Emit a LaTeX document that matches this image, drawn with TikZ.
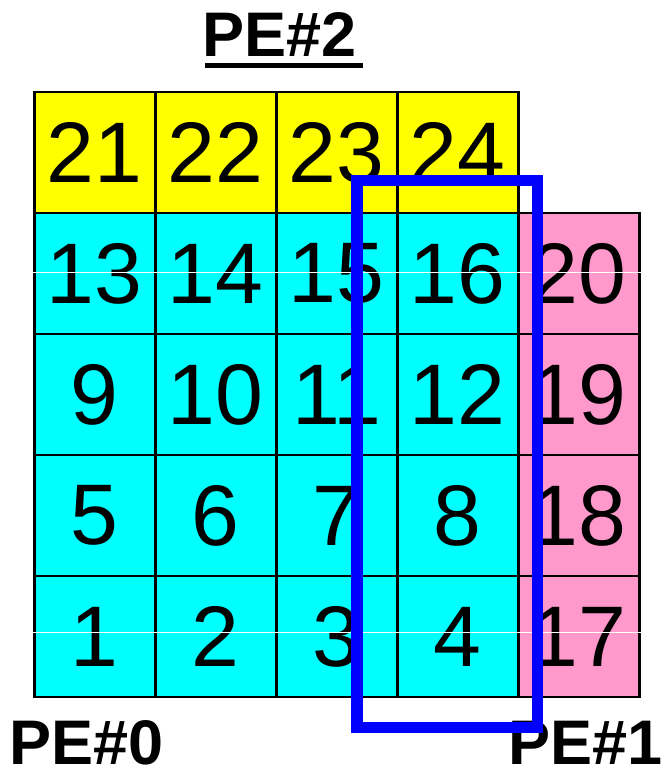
\documentclass[tikz,border=0pt]{standalone}
\usepackage{fontspec}
\setmainfont{Liberation Sans}
\definecolor{cellyellow}{HTML}{FFFF00}
\definecolor{cellcyan}{HTML}{00FFFF}
\definecolor{cellpink}{HTML}{FF99CC}
\definecolor{boxblue}{HTML}{0000FF}
\begin{document}
\begin{tikzpicture}[x=1pt,y=-1pt,
  cell/.style={draw=black, line width=2.5pt, minimum width=121pt, minimum height=121pt,
    inner sep=0pt, font=\fontsize{86}{86}\selectfont},
  yel/.style={cell, fill=cellyellow},
  cya/.style={cell, fill=cellcyan},
  pnk/.style={cell, fill=cellpink},
  pelabel/.style={inner sep=0pt, text depth=0pt, font=\fontsize{63}{63}\selectfont\bfseries},
  hair/.style={draw=white, line width=1pt},
  bluebox/.style={draw=boxblue, line width=11.7pt}]
\useasboundingbox (0,0) rectangle (664,777);
% yellow row
\foreach \n [count=\i from 0] in {21,22,23,24}
  \node[yel] (c\n) at (94.8+121*\i,152.5) {\n};
% cyan rows
\foreach \a/\b/\c/\d [count=\j from 1] in {13/14/15/16, 9/10/11/12, 5/6/7/8, 1/2/3/4}{
  \node[cya] (c\a) at (94.8,152.5+121*\j) {\a};
  \node[cya] (c\b) at (215.8,152.5+121*\j) {\b};
  \node[cya] (c\c) at (336.8,152.5+121*\j) {\c};
  \node[cya] (c\d) at (457.8,152.5+121*\j) {\d};
}
% pink column
\foreach \n [count=\j from 1] in {20,19,18,17}
  \node[pnk] (c\n) at (578.8,152.5+121*\j) {\n};
% faint white lines
\draw[hair] (c13.west |- 0,272.5) -- (c20.east |- 0,272.5);
\draw[hair] (c1.west |- 0,632) -- (c17.east |- 0,632);
% labels
\node[pelabel, anchor=base west] (pe2) at (202.5,56) {PE\#2};
\draw[line width=5pt] (205,65.5) -- (363,65.5);
\node[pelabel, anchor=base west] (pe0) at (9,764) {PE\#0};
\node[pelabel, anchor=base east] (pe1) at (663,764) {PE\#1};
% blue frame
\draw[bluebox] (357,180.5) rectangle (537.5,727.5);
\end{tikzpicture}
\end{document}
